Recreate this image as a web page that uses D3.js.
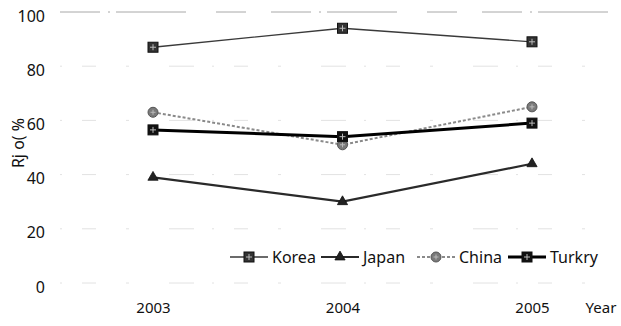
<!DOCTYPE html>
<html>
<head>
<meta charset="utf-8">
<script src="https://cdn.jsdelivr.net/npm/d3@7"></script>
<style>
  html, body { margin: 0; padding: 0; background: #fff; }
  svg { display: block; }
  text { font-family: "Noto Sans", "DejaVu Sans", sans-serif; fill: #111; }
</style>
</head>
<body>
<svg id="chart" width="621" height="326"></svg>
<script>
// Share (%) by year for four countries
const years = ["2003", "2004", "2005"];
const korea = [87, 94, 89];
const japan = [39, 30, 44];
const china = [63, 51, 65];
const turkry = [56.5, 54, 59];
const yTicks = [0, 20, 40, 60, 80, 100];
const seriesNames = ["Korea", "Japan", "China", "Turkry"];

const svg = d3.select("#chart");

const x = d3.scalePoint().domain(years).range([153, 532]);
const y = d3.scaleLinear().domain([0, 100]).range([283, 12]);

// faint, broken gridlines
svg.append("g")
  .selectAll("line")
  .data(yTicks)
  .join("line")
  .attr("x1", 60).attr("x2", 615)
  .attr("y1", d => y(d)).attr("y2", d => y(d))
  .attr("stroke", d => d === 100 ? "#a8a8a8" : "#e2e2e2")
  .attr("stroke-width", 1)
  .attr("stroke-dasharray", d => d === 100 ? "40 8 2 6 70 30 30 25" : "2 20 14 30 3 40 25 18");

// y axis tick labels
const yAxis = d3.axisLeft(y).tickValues(yTicks).tickSize(0).tickPadding(0);
const gy = svg.append("g").attr("transform", "translate(45,4)").call(yAxis);
gy.select(".domain").remove();
gy.selectAll("text")
  .style("font-size", "16px")
  .style("font-family", "'Noto Sans', 'DejaVu Sans', sans-serif")
  .attr("fill", "#111");

// x axis tick labels
const xAxis = d3.axisBottom(x).tickSize(0).tickPadding(0);
const gx = svg.append("g").attr("transform", "translate(0,302)").call(xAxis);
gx.select(".domain").remove();
gx.selectAll("text")
  .style("font-size", "15px")
  .style("font-family", "'Noto Sans', 'DejaVu Sans', sans-serif")
  .attr("fill", "#111");

svg.append("text")
  .attr("x", 601).attr("y", 313)
  .attr("text-anchor", "middle")
  .style("font-size", "15px")
  .text("Year");

// y axis title
svg.append("text")
  .attr("transform", "translate(24,143) rotate(-90)")
  .attr("text-anchor", "middle")
  .style("font-size", "16px")
  .text("Rj o( %");

// series styles
const styles = {
  Korea:  { data: korea,  stroke: "#3a3a3a", width: 1.3, dash: null,  marker: "square",   fill: "#333" },
  Japan:  { data: japan,  stroke: "#2a2a2a", width: 2.2, dash: null,  marker: "triangle", fill: "#222" },
  China:  { data: china,  stroke: "#8a8a8a", width: 2,   dash: "3 2", marker: "circle",   fill: "#7a7a7a" },
  Turkry: { data: turkry, stroke: "#000",    width: 3,   dash: null,  marker: "square",   fill: "#111" }
};

const line = d3.line().x((d, i) => x(years[i])).y(d => y(d));

function drawMarker(g, type, fill) {
  if (type === "square") {
    g.append("rect").attr("x", -5).attr("y", -5).attr("width", 10).attr("height", 10)
      .attr("fill", fill).attr("stroke", "#111").attr("stroke-width", 1);
    g.append("path").attr("d", "M-3,0H3M0,-3V3").attr("stroke", "#bbb").attr("stroke-width", 1);
  } else if (type === "triangle") {
    g.append("path").attr("d", d3.symbol(d3.symbolTriangle, 45)())
      .attr("fill", fill).attr("stroke", "#111").attr("stroke-width", 0.8);
  } else {
    g.append("circle").attr("r", 5).attr("fill", fill).attr("stroke", "#555").attr("stroke-width", 1);
    g.append("path").attr("d", "M-2.5,0H2.5M0,-2.5V2.5").attr("stroke", "#bbb").attr("stroke-width", 1);
  }
}

const drawOrder = ["Korea", "China", "Japan", "Turkry"];
drawOrder.forEach(name => {
  const s = styles[name];
  svg.append("path")
    .datum(s.data)
    .attr("d", line)
    .attr("fill", "none")
    .attr("stroke", s.stroke)
    .attr("stroke-width", s.width)
    .attr("stroke-dasharray", s.dash);
  s.data.forEach((v, i) => {
    const g = svg.append("g").attr("transform", `translate(${x(years[i])},${y(v)})`);
    drawMarker(g, s.marker, s.fill);
  });
});

// legend
const legendX = [230, 321, 417, 508];
seriesNames.forEach((name, i) => {
  const s = styles[name];
  const lx = legendX[i], ly = 257;
  const g = svg.append("g");
  g.append("line")
    .attr("x1", lx).attr("x2", lx + 38).attr("y1", ly).attr("y2", ly)
    .attr("stroke", s.stroke).attr("stroke-width", s.width)
    .attr("stroke-dasharray", s.dash);
  const m = g.append("g").attr("transform", `translate(${lx + 19},${ly})`);
  drawMarker(m, s.marker, s.fill);
  g.append("text")
    .attr("x", lx + 42).attr("y", ly + 6)
    .style("font-size", "16px")
    .text(name);
});
</script>
</body>
</html>
